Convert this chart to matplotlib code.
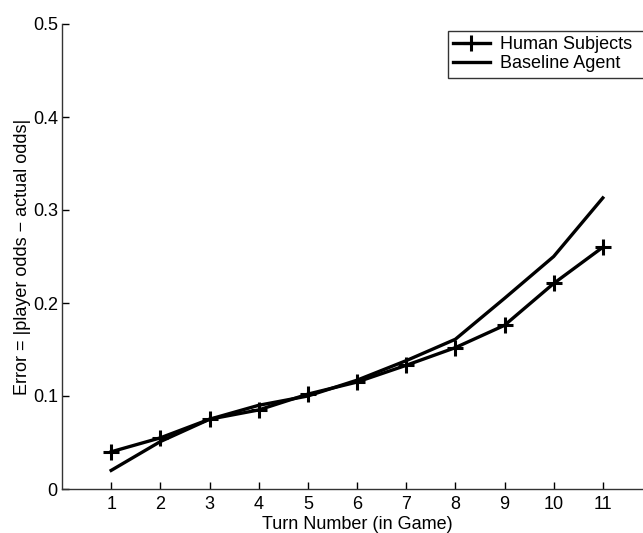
import matplotlib

matplotlib.use("Agg")
import matplotlib.pyplot as plt

plt.rcParams["font.family"] = ["Liberation Sans", "DejaVu Sans"]

turns = [1, 2, 3, 4, 5, 6, 7, 8, 9, 10, 11]
human = [0.040, 0.055, 0.075, 0.085, 0.102, 0.115, 0.133, 0.152, 0.176, 0.221, 0.260]
baseline = [0.020, 0.051, 0.075, 0.090, 0.100, 0.117, 0.138, 0.161, 0.205, 0.250, 0.313]
yticks = [0, 0.1, 0.2, 0.3, 0.4, 0.5]
ytick_labels = ["0", "0.1", "0.2", "0.3", "0.4", "0.5"]

W, H = 643, 533
FS = 13
fig = plt.figure(figsize=(W / 100, H / 100), dpi=100)
# axes spans x=0..12; the right part runs past the figure edge like the source
ax = fig.add_axes([62 / W, 1 - 489 / H, (652 - 62) / W, (489 - 24) / H])

ax.plot(turns, human, color="black", lw=2.4, marker="+", ms=12, mew=2.2,
        label="Human Subjects  ")
ax.plot(turns, baseline, color="black", lw=2.4, label="Baseline Agent")

ax.set_xlim(0, 12)
ax.set_ylim(0, 0.5)
ax.set_xticks(turns)
ax.set_yticks(yticks)
ax.set_yticklabels(ytick_labels)
ax.tick_params(direction="in", length=5, width=1, labelsize=FS, pad=3)
ax.tick_params(axis="x", pad=5)

for side in ("top", "right"):
    ax.spines[side].set_visible(False)
for side in ("left", "bottom"):
    ax.spines[side].set_linewidth(1)
    ax.spines[side].set_color("#333333")

ax.set_xlabel("Turn Number (in Game)", fontsize=FS, labelpad=2.5)
ax.set_ylabel("Error = |player odds \u2212 actual odds|", fontsize=FS, labelpad=1)

leg = ax.legend(loc="upper left", bbox_to_anchor=(448 / W, 1 - 31 / H),
                bbox_transform=fig.transFigure, borderaxespad=0, fontsize=FS,
                handlelength=2.0, handletextpad=0.6, borderpad=0.3,
                labelspacing=0.1, fancybox=False, framealpha=1)
leg.get_frame().set_edgecolor("#333333")
leg.get_frame().set_linewidth(1)

fig.savefig("out.png", dpi=100)
